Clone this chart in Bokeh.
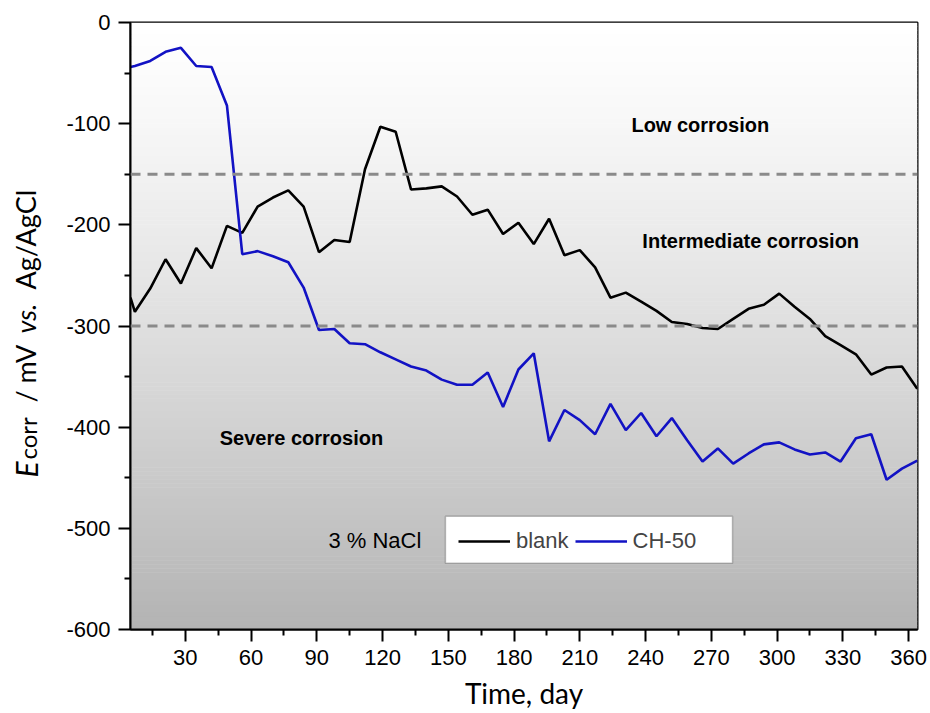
import numpy as np
from bokeh.plotting import figure
from bokeh.layouts import row
from bokeh.models import (Range1d, Span, Label, Legend, LegendItem, FixedTicker,
                          BoxAnnotation)
from bokeh.core.properties import value
from bokeh.embed import file_html
from bokeh.resources import INLINE

# Corrosion potential monitoring, 3 % NaCl
days = [5, 7, 14, 21, 28, 35, 42, 49, 56, 63, 70, 77, 84, 91, 98, 105, 112, 119,
        126, 133, 140, 147, 154, 161, 168, 175, 182, 189, 196, 203, 210, 217, 224,
        231, 238, 245, 252, 259, 266, 273, 280, 287, 294, 301, 308, 315, 322, 329,
        336, 343, 350, 357, 364]

blank = [-272, -286, -263, -234, -258, -223, -243, -201, -208, -182, -173, -166,
         -182, -227, -215, -217, -145, -103, -108, -165, -164, -162, -172, -190,
         -185, -209, -198, -219, -194, -230, -225, -242, -272, -267, -276, -285,
         -296, -298, -302, -303, -293, -283, -279, -268, -281, -293, -310, -319,
         -328, -348, -341, -340, -362]

ch50 = [-44, -43, -38, -29, -25, -43, -44, -82, -229, -226, -231, -237, -262,
        -304, -303, -317, -318, -326, -333, -340, -344, -353, -358, -358, -346,
        -380, -343, -327, -414, -383, -393, -407, -377, -403, -386, -409, -391,
        -413, -434, -421, -436, -426, -417, -415, -422, -427, -425, -434, -411,
        -407, -452, -441, -433]

x_ticks = [30, 60, 90, 120, 150, 180, 210, 240, 270, 300, 330, 360]
y_ticks = [0, -100, -200, -300, -400, -500, -600]
zone_limits = [-150, -300]

X0, X1 = 5, 364.1
Y0, Y1 = -600, 0
LABEL_W = 60
H = 713
FRAME_TOP, FRAME_BOTTOM = 22, 629

p = figure(width=930 - LABEL_W, height=H, output_backend="svg",
           toolbar_location=None, x_range=Range1d(X0, X1), y_range=Range1d(Y0, Y1),
           min_border_left=130 - LABEL_W, min_border_right=13,
           min_border_top=FRAME_TOP, min_border_bottom=H - FRAME_BOTTOM,
           background_fill_color="white", border_fill_color="white")
p.grid.visible = False

# vertical grey gradient behind the data
n = 150
edges = np.linspace(Y1, Y0, n + 1)
tops, bottoms, cols = [], [], []
for i in range(n):
    t = (i + 0.5) / n
    v = int(round(255 - 76 * t ** 1.25))
    tops.append(edges[i] + 0.5 if i > 0 else edges[i])
    bottoms.append(edges[i + 1])
    cols.append("#%02x%02x%02x" % (v, v, v))
p.quad(left=X0, right=X1, top=tops, bottom=bottoms, fill_color=cols,
       line_color=None)

for lim in zone_limits:
    p.add_layout(Span(location=lim, dimension="width", line_color="#8a8a8a",
                      line_width=3, line_dash="10 7"))

r_blank = p.line(days, blank, line_color="black", line_width=2.6)
r_ch = p.line(days, ch50, line_color="#1212c4", line_width=2.6)

# axes
minor_x = [t - 15 for t in x_ticks] + [x_ticks[-1] + 15]
minor_y = [t - 50 for t in y_ticks[:-1]]
p.xaxis.ticker = FixedTicker(ticks=x_ticks, minor_ticks=minor_x)
p.yaxis.ticker = FixedTicker(ticks=y_ticks, minor_ticks=minor_y)
p.yaxis.major_label_overrides = {t: str(t) for t in y_ticks}
p.xaxis.major_label_overrides = {t: str(t) for t in x_ticks}
for ax in (p.xaxis[0], p.yaxis[0]):
    ax.axis_line_width = 2
    ax.axis_line_color = "black"
    ax.major_tick_line_width = 2
    ax.minor_tick_line_width = 2
    ax.major_tick_in = 0
    ax.major_tick_out = 12
    ax.minor_tick_in = 0
    ax.minor_tick_out = 6
    ax.major_label_text_font = "Liberation Sans"
    ax.major_label_text_font_size = "22px"
    ax.major_label_text_color = "black"
    ax.major_label_standoff = 8
p.outline_line_color = "black"
p.outline_line_width = 2

p.xaxis.axis_label = "Time, day"
p.xaxis.axis_label_text_font = "Lato"
p.xaxis.axis_label_text_font_size = "28px"
p.xaxis.axis_label_text_font_style = "normal"
p.xaxis.axis_label_text_color = "black"
p.xaxis.axis_label_standoff = 8

# zone annotations
zones = [("Low corrosion", 265, -101), ("Intermediate corrosion", 288, -216),
         ("Severe corrosion", 83, -411)]
for txt, xx, yy in zones:
    p.add_layout(Label(x=xx, y=yy, text=txt, text_font="Liberation Sans",
                       text_font_style="bold", text_font_size="20px",
                       text_align="center", text_baseline="middle",
                       text_color="black"))

p.add_layout(Label(x=95.3, y=-512, text="3 % NaCl", text_font="Liberation Sans",
                   text_font_size="22px", text_align="left",
                   text_baseline="middle", text_color="black"))

# legend: white framed box with the two line entries inside
p.add_layout(BoxAnnotation(left=148.7, right=279.7, top=-488.0, bottom=-534.5,
                           fill_color="white", fill_alpha=1.0,
                           line_color="#333333", line_width=1.5, level="overlay"))
legend = Legend(items=[LegendItem(label="blank", renderers=[r_blank]),
                       LegendItem(label="CH-50", renderers=[r_ch])],
                orientation="horizontal", location=(328, 75),
                label_text_font="Liberation Sans", label_text_font_size="22px",
                glyph_width=52, glyph_height=26, label_standoff=6, spacing=6,
                padding=6, margin=0, border_line_color=None,
                background_fill_alpha=0.0)
p.add_layout(legend)

# rotated y-axis title: italic symbol, subscript and italic "vs."
# (its frame lines up with the main frame, so the y range spans the same pixels)
lab = figure(width=LABEL_W, height=H, output_backend="svg", toolbar_location=None,
             x_range=Range1d(0, LABEL_W), y_range=Range1d(FRAME_BOTTOM, FRAME_TOP),
             x_axis_location=None, y_axis_location=None, min_border=0,
             min_border_top=FRAME_TOP, min_border_bottom=H - FRAME_BOTTOM,
             outline_line_color=None, background_fill_color="white",
             border_fill_color="white")
lab.grid.visible = False
title_parts = ["E", "corr", "/ mV", "vs.", "Ag/AgCl"]
title_styles = ["italic", "normal", "normal", "italic", "normal"]
title_sizes = ["30px", "24px", "27px", "27px", "27px"]
title_x = [25, 27, 25, 25, 25]
title_y = [477, 459, 402, 333, 289]
for txt, st, sz, xx, yy in zip(title_parts, title_styles, title_sizes,
                               title_x, title_y):
    lab.text(x=[xx], y=[yy], text=[txt], angle=np.pi / 2,
             text_font=value("Lato"), text_font_size=sz, text_font_style=st,
             text_align="left", text_baseline="alphabetic", text_color="black")

layout = row(lab, p, spacing=0)
open("out.html", "w").write(file_html(layout, INLINE))
